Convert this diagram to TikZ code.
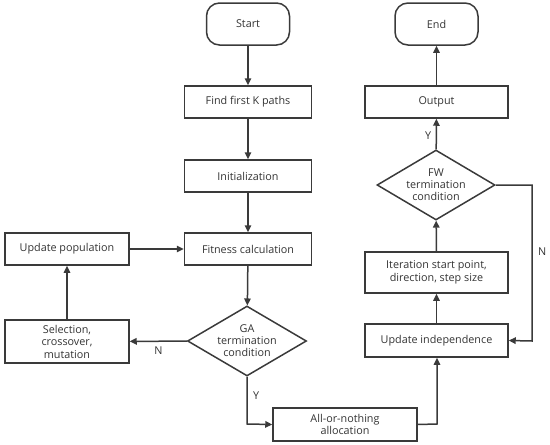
\documentclass[tikz,border=0pt]{standalone}
\usepackage{fontspec}
\setmainfont{Open Sans}
\usetikzlibrary{shapes.geometric,arrows.meta}
\definecolor{ln}{HTML}{3A3A3A}
\definecolor{tx}{HTML}{333333}
\begin{document}
\begin{tikzpicture}[x=1pt,y=-1pt,
  font=\fontsize{10.8}{12.5}\selectfont, text=tx,
  box/.style={draw=ln,line width=1.5pt,rectangle,minimum width=127pt,minimum height=32pt,inner sep=1pt,align=center},
  term/.style={draw=ln,line width=1.5pt,rectangle,rounded corners=13pt,minimum width=83pt,minimum height=42pt,align=center},
  dec/.style={draw=ln,line width=1.5pt,diamond,aspect=1.7,minimum width=119pt,minimum height=70pt,inner sep=0pt,align=center,font=\fontsize{10.8}{12}\selectfont},
  arr/.style={draw=ln,line width=1.5pt,-{Triangle[length=7pt,width=6.5pt]}},
  lab/.style={font=\fontsize{10.8}{12.5}\selectfont,text=tx}]
\useasboundingbox (0,0) rectangle (550,445);
\node[term] (start) at (248,24) {Start};
\node[box] (find) at (248,102) {Find first K paths};
\node[box] (init) at (248,176) {Initialization};
\node[box] (fit) at (248,249) {Fitness calculation};
\node[box,minimum width=124pt] (upd) at (67,249) {Update population};
\node[box,minimum width=124pt,minimum height=43pt] (sel) at (67,341.5) {Selection,\\crossover,\\mutation};
\node[dec] (ga) at (247,341) {GA\\termination\\condition};
\node[box,minimum width=144pt,minimum height=33pt] (aon) at (345,424.5) {All-or-nothing\\allocation};
\node[box,minimum width=143pt,minimum height=33pt] (ui) at (436.5,340.5) {Update independence};
\node[box,minimum width=143pt,minimum height=41pt] (it) at (436.5,272.5) {Iteration start point,\\direction, step size};
\node[dec,minimum width=118pt] (fw) at (436,185) {FW\\termination\\condition};
\node[box,minimum width=143pt] (out) at (436.5,102) {Output};
\node[term] (end) at (436.5,24) {End};
\coordinate (c1) at (247,424);
\coordinate (c2) at (437,424);
\coordinate (c3) at (532,185);
\coordinate (c4) at (532,341);
\draw[arr] (start) -- (find);
\draw[arr] (find) -- (init);
\draw[arr] (init) -- (fit);
\draw[arr] (fit) -- (ga);
\draw[arr] (ga) -- node[lab,below,yshift=-1pt] {N} (sel);
\draw[arr] (sel) -- (upd);
\draw[arr] (upd) -- (fit);
\draw[arr] (ga.south) -- node[lab,right,pos=0.4,xshift=2pt] {Y} (c1) -- (aon.west);
\draw[arr] (aon.east) -- (c2) -- (ui.south -| c2);
\draw[arr] (ui) -- (it);
\draw[arr] (it) -- (fw);
\draw[arr] (fw) -- node[lab,left,pos=0.45,xshift=-1pt] {Y} (out);
\draw[arr] (out) -- (end);
\draw[arr] (fw.east) -- (c3) -- node[lab,right,pos=0.43,xshift=2pt] {N} (c4) -- (ui.east);
\end{tikzpicture}
\end{document}
